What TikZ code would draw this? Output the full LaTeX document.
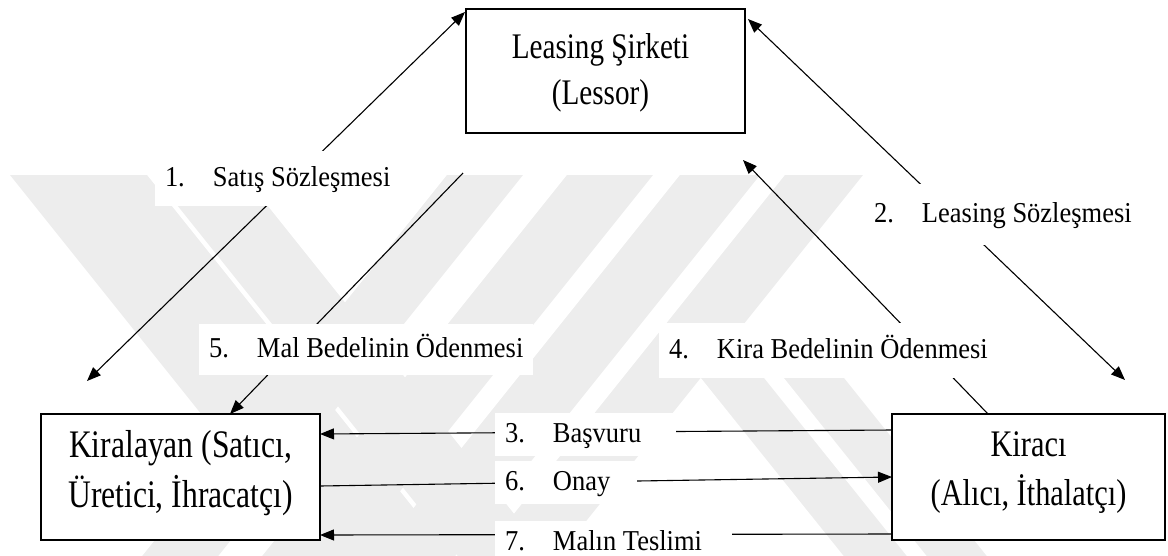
\documentclass[tikz,border=0pt]{standalone}
\usepackage{fontspec}
\setmainfont{Liberation Serif}
\newfontfamily\partyfont{Liberation Serif}[FakeStretch=0.81]
\newfontfamily\stepfont{Liberation Serif}[FakeStretch=0.92]
\usetikzlibrary{arrows.meta,calc}
\newcommand\lblnum[1]{\makebox[48pt][l]{#1}}
\begin{document}
\begin{tikzpicture}[x=1pt,y=-1pt,
  >={Triangle[length=14pt,width=11pt]},
  wm/.style={fill=black!7},
  entity/.style={draw, fill=white, line width=2.2pt, inner sep=0pt, outer sep=0pt},
  partytext/.style={align=center, inner sep=0pt},
  conn/.style={line width=1.1pt},
  lbl/.style={fill=white, anchor=base west, inner xsep=10pt, outer sep=0pt,
    text height=21pt, text depth=6pt, font=\stepfont\fontsize{28.8}{32}\selectfont}]
\useasboundingbox (0,0) rectangle (1168,555);

% light striped background emblem
\begin{scope}
  \clip (0,0) rectangle (1168,555);
  \fill[wm] (10,175) -- (147,175) -- (487,600) -- (350,600) -- cycle;
  \fill[wm] (177,205) -- (267,205) -- (583,600) -- (493,600) -- cycle;
  \fill[wm] (447,175) -- (523,175) -- (183,600) -- (107,600) -- cycle;
  \fill[wm] (567,175) -- (653,175) -- (313,600) -- (227,600) -- cycle;
  \fill[wm] (680,175) -- (760,175) -- (420,600) -- (340,600) -- cycle;
  \fill[wm] (785,175) -- (863,175) -- (523,600) -- (445,600) -- cycle;
  \fill[wm] (697,373) -- (760,373) -- (942,600) -- (879,600) -- cycle;
  \fill[wm] (780,373) -- (840,373) -- (1022,600) -- (962,600) -- cycle;
\end{scope}

% parties: frames, then their two-line names
\node[entity, minimum width=279pt, minimum height=124pt] (lessor) at (605.5,71) {};
\node[entity, minimum width=279pt, minimum height=126pt] (kiralayan) at (180.5,477) {};
\node[entity, minimum width=273pt, minimum height=126pt] (kiraci) at (1028.5,477) {};

\node[partytext, font=\partyfont\fontsize{36}{46}\selectfont, xshift=-5pt, yshift=-2pt]
  (lessor-name) at (lessor.center) {Leasing Şirketi\\(Lessor)};
\node[partytext, font=\partyfont\fontsize{39}{50}\selectfont, yshift=4pt]
  (kiralayan-name) at (kiralayan.center) {Kiralayan (Satıcı,\\Üretici, İhracatçı)};
\node[partytext, font=\partyfont\fontsize{37.5}{49}\selectfont, yshift=4pt]
  (kiraci-name) at (kiraci.center) {Kiracı\\(Alıcı, İthalatçı)};

% free ends of the diagonal connectors
\coordinate (s1) at (87,381);
\coordinate (s2) at (1125,380);
\coordinate (s4) at (743,160);
\coordinate (s5) at (463,173);

% connectors
\draw[conn,<->] (s1) -- ($(lessor.north west)+(-1,3)$);
\draw[conn,<->] ($(lessor.north east)+(3,10)$) -- (s2);
\draw[conn,->] ($(kiraci.north west)+(96,0)$) -- (s4);
\draw[conn,->] (s5) -- ($(kiralayan.north west)+(189,0)$);
\draw[conn,->] ($(kiraci.north west)+(0,16)$) -- ($(kiralayan.north east)+(0,20)$);
\draw[conn,->] ($(kiralayan.north east)+(0,72)$) -- ($(kiraci.north west)+(0,63)$);
\draw[conn,->] ($(kiraci.north west)+(0,120)$) -- ($(kiralayan.north east)+(0,121)$);

% step labels
\node[lbl, inner ysep=14pt] (l1) at (155,186) {\lblnum{1.}Satış Sözleşmesi};
\node[lbl, inner ysep=17pt] (l2) at (864,222) {\lblnum{2.}Leasing Sözleşmesi};
\node[lbl, inner ysep=8pt]  (l3) at (495,442) {\lblnum{3.}Başvuru\hspace*{25pt}};
\node[lbl, inner ysep=14pt] (l4) at (659,358) {\lblnum{4.}Kira Bedelinin Ödenmesi};
\node[lbl, inner ysep=12pt] (l5) at (199,357) {\lblnum{5.}Mal Bedelinin Ödenmesi};
\node[lbl, inner ysep=8pt]  (l6) at (495,490) {\lblnum{6.}Onay\hspace*{17pt}};
\node[lbl, inner ysep=8pt]  (l7) at (495,550) {\lblnum{7.}Malın Teslimi\hspace*{20pt}};
\end{tikzpicture}
\end{document}
